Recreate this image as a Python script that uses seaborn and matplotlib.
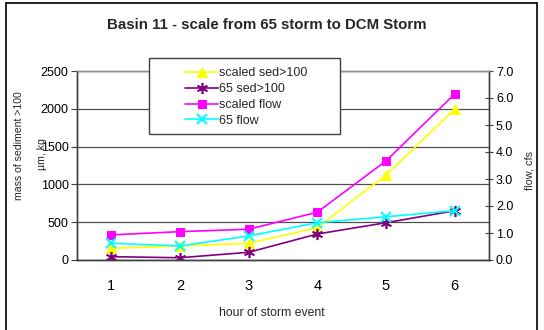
import matplotlib
matplotlib.use("Agg")
import matplotlib.pyplot as plt
import seaborn as sns
import numpy as np
from matplotlib.patches import Rectangle
from matplotlib.lines import Line2D

sns.set_style("white")
plt.rcParams['font.family'] = ['Liberation Sans', 'DejaVu Sans']

hours = [1, 2, 3, 4, 5, 6]
scaled_sed = [155, 185, 221, 427, 1124, 1995]
sed_65 = [44, 30, 102, 344, 493, 652]
scaled_flow = [0.93, 1.05, 1.14, 1.77, 3.67, 6.15]
flow_65 = [0.62, 0.52, 0.89, 1.38, 1.60, 1.83]

W, H = 544, 330
fig = plt.figure(figsize=(W/100, H/100), dpi=100)
ax = fig.add_axes([77/W, 1-260/H, (489-77)/W, (260-71)/H])
ax2 = ax.twinx()

lw = 1.2
ms = 6
star = (6, 2, 0)
sns.lineplot(x=hours, y=scaled_sed, ax=ax, color='#FFFF00', marker='^', markersize=ms+1,
             markeredgecolor='#FFFF00', linewidth=lw, label='scaled sed>100', legend=False)
sns.lineplot(x=hours, y=sed_65, ax=ax, color='#800080', marker=star, markersize=ms+2,
             markeredgecolor='#800080', markeredgewidth=1.2, linewidth=lw, label='65 sed>100', legend=False)
sns.lineplot(x=hours, y=scaled_flow, ax=ax2, color='#FF00FF', marker='s', markersize=ms,
             markeredgecolor='#FF00FF', linewidth=lw, label='scaled flow', legend=False)
sns.lineplot(x=hours, y=flow_65, ax=ax2, color='#00FFFF', marker='x', markersize=ms+1,
             markeredgecolor='#00FFFF', markeredgewidth=1.5, linewidth=lw, label='65 flow', legend=False)

ax.set_xlim(0.5, 6.5)
ax.set_ylim(0, 2500)
ax2.set_ylim(0, 7)
ax.set_yticks([0, 500, 1000, 1500, 2000, 2500])
ax2.set_yticks(np.arange(0, 7.01, 1.0))
ax2.set_yticklabels([f"{v:.1f}" for v in np.arange(0, 7.01, 1.0)])
ax.set_xticks(hours)
ax.set_xticklabels([str(h) for h in hours])
ax.set_xticks([1.5, 2.5, 3.5, 4.5, 5.5], minor=True)

for a in (ax, ax2):
    for s in a.spines.values():
        s.set_color('#404040')
        s.set_linewidth(1.0)
ax.spines['top'].set_color('#909090')
ax2.spines['top'].set_color('#909090')
ax.yaxis.grid(True, color='#505050', linewidth=0.9)
ax.set_axisbelow(True)

ax.tick_params(axis='x', which='major', length=0, labelsize=10.5, pad=14, colors='black')
ax.tick_params(axis='x', which='minor', length=4, direction='out', color='#404040', width=1)
ax.tick_params(axis='y', length=4, direction='out', labelsize=9, colors='black', pad=2, color='#404040')
ax2.tick_params(axis='y', length=6, direction='inout', labelsize=9, colors='black', pad=2, color='#404040')
ax.set_xlabel('')
ax.set_ylabel('')
ax2.set_ylabel('')

fig.text(267/W, 1-25/H, 'Basin 11 - scale from 65 storm to DCM Storm', ha='center', va='center',
         fontsize=10.8, fontweight='bold')
fig.text(272/W, 1-313/H, 'hour of storm event', ha='center', va='center', fontsize=8.8)
fig.text(19/W, 1-146/H, 'mass of sediment >100', ha='center', va='center', rotation=90, fontsize=7.6)
fig.text(42/W, 1-154/H, 'µm, kg', ha='center', va='center', rotation=90, fontsize=7.6)
fig.text(530/W, 1-171/H, 'flow, cfs', ha='center', va='center', rotation=90, fontsize=7.8)

# legend box
fig.add_artist(Rectangle((149/W, 1-134/H), (340-149)/W, (134-58)/H, transform=fig.transFigure,
                         facecolor='white', edgecolor='#404040', linewidth=1.0, zorder=5))
h1, l1 = ax.get_legend_handles_labels()
h2, l2 = ax2.get_legend_handles_labels()
leg = fig.legend(h1 + h2, l1 + l2, loc='upper left', bbox_to_anchor=(176/W, 1-58/H),
                 bbox_transform=fig.transFigure, frameon=False, fontsize=9,
                 handlelength=2.6, handletextpad=0.1, labelspacing=0.3, borderpad=0.25)
leg.set_zorder(10)

# figure border
fig.add_artist(Line2D([6/W, 6/W], [0, 1-3/H], transform=fig.transFigure, color='black', lw=1.2))
fig.add_artist(Line2D([6/W, 537/W], [1-3/H, 1-3/H], transform=fig.transFigure, color='black', lw=1.2))
fig.add_artist(Line2D([537/W, 537/W], [0, 1-3/H], transform=fig.transFigure, color='black', lw=1.2))

fig.savefig('out.png', dpi=100)
